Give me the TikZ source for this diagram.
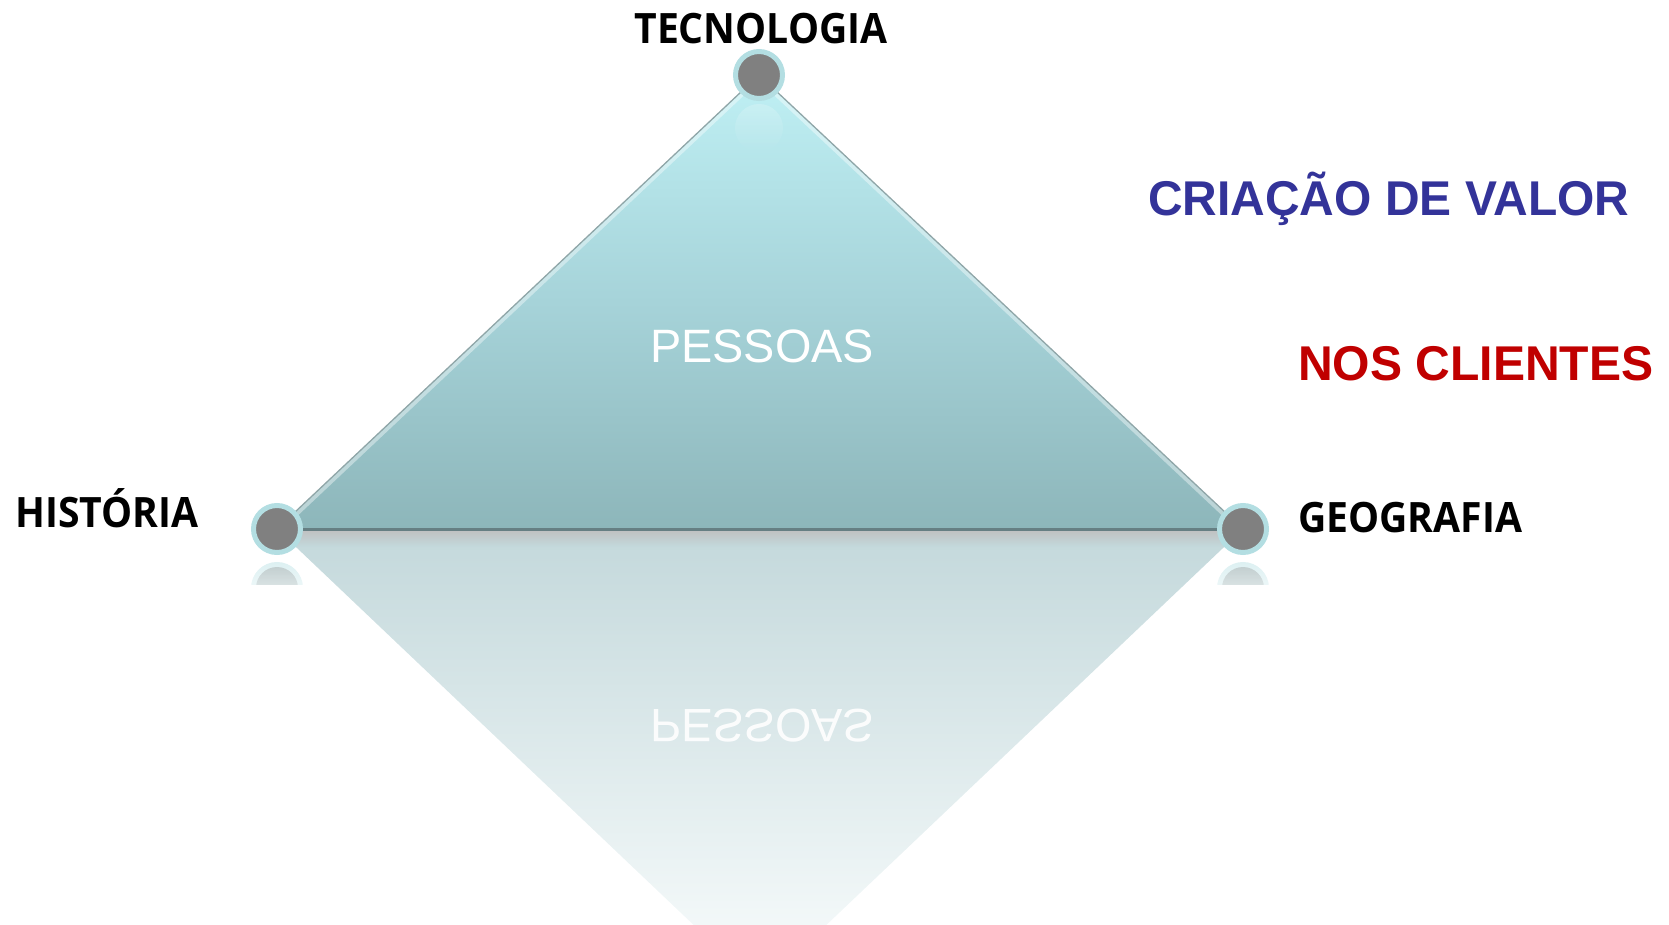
\documentclass[tikz,border=0pt]{standalone}
\usepackage{fontspec}
\setmainfont{Liberation Sans}
\newfontfamily\labelfont{Open Sans}
\usetikzlibrary{fadings}
\definecolor{ringc}{HTML}{B3DEE2}
\definecolor{dotc}{HTML}{808080}
\definecolor{tritop}{HTML}{BFF0F4}
\definecolor{trimid}{HTML}{A6D3D9}
\definecolor{tribot}{HTML}{8DB6BA}
\definecolor{edgec}{HTML}{8FA6A8}
\definecolor{basec}{HTML}{667F83}
\definecolor{reftop}{HTML}{C3D8DB}
\definecolor{refbot}{HTML}{FAFDFD}
\definecolor{valblue}{HTML}{333399}
\definecolor{cliRed}{HTML}{C00000}
\tikzset{
  vertex/.style={circle, draw=ringc, line width=5bp, fill=dotc, inner sep=0pt, minimum size=47bp},
  toplabel/.style={font=\labelfont\bfseries\fontsize{42}{50}\selectfont, text=black, inner sep=0pt, xscale=0.935},
  bigblue/.style={font=\bfseries\fontsize{49}{58}\selectfont, text=valblue, inner sep=0pt, xscale=0.982},
  bigred/.style={font=\bfseries\fontsize{49}{58}\selectfont, text=cliRed, inner sep=0pt, xscale=0.985},
  centertext/.style={font=\fontsize{47}{56}\selectfont, text=white, inner sep=0pt},
}
\begin{document}
\begin{tikzpicture}[x=1bp,y=-1bp]
\useasboundingbox (0,0) rectangle (1669,924);
\coordinate (T) at (759,75);
\coordinate (L) at (277,529);
\coordinate (R) at (1243,529);
\coordinate (B) at (760,988);
\begin{scope}
\clip (0,0) rectangle (1669,924);
% reflection
\shade[top color=reftop, bottom color=refbot] (L) -- (R) -- (B) -- cycle;
\begin{scope}
\clip (L) -- (R) -- (B) -- cycle;
\shade[top color=black!25, bottom color=reftop] (200,529) rectangle (1300,546);
\end{scope}
\node[centertext, yscale=-1, anchor=base, opacity=0.9] (prefl) at (762,709) {PESSOAS};
% circle reflections
\begin{scope}
\clip (245,555) rectangle (309,584);
\fill[ringc, opacity=0.45, path fading=south] (277,588) circle (26);
\fill[dotc, opacity=0.3, path fading=south] (277,588) circle (21);
\end{scope}
\begin{scope}
\clip (1211,555) rectangle (1275,584);
\fill[ringc, opacity=0.45, path fading=south] (1243,588) circle (26);
\fill[dotc, opacity=0.3, path fading=south] (1243,588) circle (21);
\end{scope}
\end{scope}
% main triangle
\shade[top color=tritop, bottom color=tribot, middle color=trimid] (T) -- (L) -- (R) -- cycle;
\begin{scope}
\clip (T) -- (L) -- (R) -- cycle;
\draw[white, opacity=0.4, line width=9bp, line join=round] (L) -- (T) -- (R);
\fill[white, opacity=0.2, path fading=south] (759,128) circle (24);
\end{scope}
\draw[edgec, line width=1.3bp] (L) -- (T) -- (R);
\draw[basec, line width=3bp] (L) -- (R);
% vertices
\node[vertex] (top) at (T) {};
\node[vertex] (left) at (L) {};
\node[vertex] (right) at (R) {};
% labels
\node[toplabel, anchor=base] (tec) at (761,43) {TECNOLOGIA};
\node[toplabel, anchor=base west] (hist) at (15,527) {HISTÓRIA};
\node[toplabel, anchor=base west] (geo) at (1298,532) {GEOGRAFIA};
\node[bigblue, anchor=base west] (val) at (1148,215) {CRIAÇÃO DE VALOR};
\node[bigred, anchor=base west] (cli) at (1298,380) {NOS CLIENTES};
\node[centertext, anchor=base] (pes) at (762,362) {PESSOAS};
\end{tikzpicture}
\end{document}
